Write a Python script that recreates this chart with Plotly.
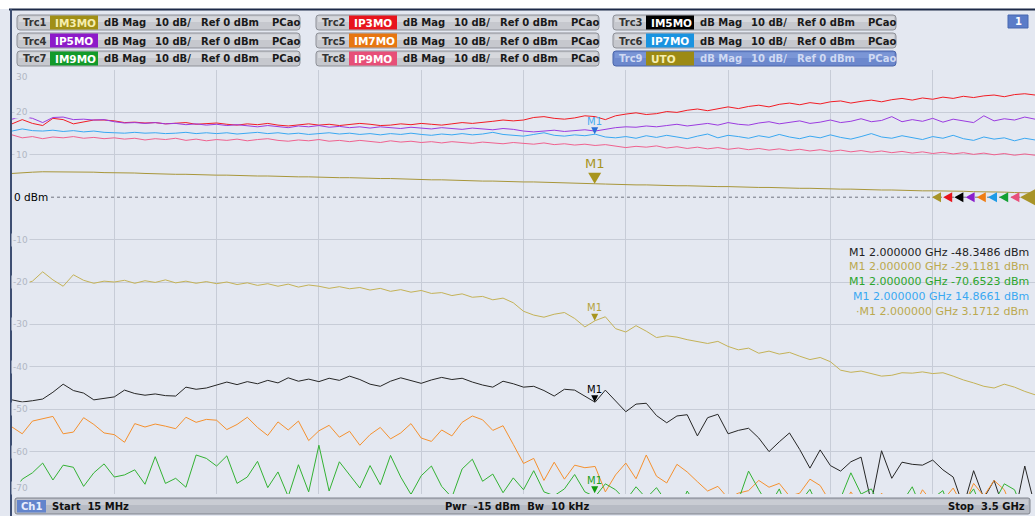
import plotly.graph_objects as go

W, H = 1035, 516

# sweep: 15 MHz .. 3.5 GHz, 101 points
f_start_ghz = 0.015
f_stop_ghz = 3.5
n_points = 101
freq_ghz = [f_start_ghz + (f_stop_ghz - f_start_ghz) * k / (n_points - 1) for k in range(n_points)]

trace_ids = ['Trc1', 'Trc2', 'Trc3', 'Trc4', 'Trc5', 'Trc6', 'Trc7', 'Trc8', 'Trc9']
trace_names = ['IM3MO', 'IP3MO', 'IM5MO', 'IP5MO', 'IM7MO', 'IP7MO', 'IM9MO', 'IP9MO', 'UTO']

im3mo = [-18.8, -20.6, -19.8, -17.6, -19.5, -21.0, -18.3, -19.6, -20.3, -19.8,
         -20.0, -19.6, -20.3, -19.7, -20.1, -19.5, -20.2, -19.8, -20.3, -19.9,
         -20.4, -20.0, -20.6, -20.2, -20.8, -20.4, -21.0, -20.5, -21.2, -20.7,
         -21.0, -21.5, -21.1, -21.6, -21.3, -21.9, -21.5, -22.2, -21.8, -22.4,
         -22.0, -22.7, -22.5, -23.2, -22.8, -23.6, -23.4, -24.2, -23.8, -24.9,
         -26.9, -27.8, -28.3, -27.6, -27.2, -28.6, -30.6, -29.1181, -28.2, -31.0,
         -31.8, -30.3, -31.6, -33.1, -32.7, -33.0, -33.6, -34.0, -34.5, -34.0,
         -35.2, -36.0, -35.6, -36.8, -36.3, -37.0, -36.6, -37.5, -38.3, -37.8,
         -38.8, -40.8, -41.3, -41.0, -41.6, -42.2, -42.0, -41.4, -41.5, -41.2,
         -41.6, -41.4, -42.2, -43.1, -43.8, -44.6, -45.0, -44.1, -44.8, -45.8,
         -46.6]
ip3mo = [17.3, 18.3, 17.4, 16.9, 18.6, 18.3, 17.3, 17.8, 18.2, 18.2,
         18.0, 17.6, 17.7, 17.5, 17.6, 17.3, 17.4, 17.6, 17.2, 17.3,
         17.5, 17.2, 17.0, 17.3, 17.1, 17.4, 17.0, 16.8, 17.1, 17.3,
         17.0, 17.2, 16.9, 17.1, 17.4, 17.2, 16.9, 17.0, 17.3, 17.1,
         17.4, 17.2, 17.0, 17.3, 17.6, 17.4, 17.6, 17.9, 18.2, 18.0,
         18.2, 18.8, 19.0, 18.6, 18.4, 18.7, 19.2, 19.0, 18.3, 19.2,
         19.6, 19.9, 19.5, 19.7, 20.2, 20.0, 20.5, 20.8, 20.4, 20.9,
         21.3, 20.9, 21.4, 21.7, 21.3, 21.9, 22.2, 21.8, 22.3, 22.0,
         22.5, 22.7, 22.2, 22.6, 22.9, 22.5, 23.0, 23.3, 22.9, 23.4,
         23.1, 23.6, 23.3, 23.8, 23.5, 23.9, 24.1, 23.7, 24.2, 24.4,
         24.1]
im5mo = [-47.8, -48.3, -48.0, -47.6, -46.0, -44.1, -45.6, -46.2, -47.8, -47.5,
         -47.1, -45.5, -46.3, -46.7, -46.4, -46.8, -46.9, -44.8, -45.3, -45.0,
         -44.3, -43.6, -44.2, -43.5, -44.0, -43.2, -43.8, -42.6, -43.4, -42.9,
         -43.5, -42.7, -43.2, -42.2, -43.0, -44.1, -44.6, -43.4, -42.6, -43.3,
         -43.9, -43.1, -42.5, -43.0, -42.7, -43.6, -44.3, -44.8, -43.4, -44.0,
         -44.8, -44.6, -45.6, -46.9, -45.3, -45.5, -47.0, -48.3486, -45.5, -48.0,
         -50.6, -48.8, -48.6, -51.5, -53.2, -51.6, -51.3, -56.3, -52.0, -51.2,
         -55.8, -55.0, -54.5, -56.8, -60.0, -57.7, -55.6, -59.5, -63.9, -59.6,
         -63.3, -64.6, -62.4, -61.3, -72.0, -59.8, -66.3, -62.5, -63.0, -63.2,
         -62.0, -64.3, -66.0, -73.0, -64.5, -71.0, -66.8, -74.0, -75.0, -63.4,
         -73.0]
ip5mo = [18.4, 19.0, 18.6, 17.6, 18.8, 18.9, 18.3, 18.4, 18.2, 18.3,
         17.8, 17.5, 17.6, 17.4, 17.6, 17.3, 17.4, 17.1, 17.3, 17.0,
         17.2, 16.9, 17.1, 16.8, 16.6, 16.9, 16.7, 16.4, 16.8, 16.6,
         16.9, 16.5, 16.7, 16.4, 16.6, 16.3, 16.6, 16.4, 16.2, 16.5,
         16.3, 16.1, 16.4, 16.2, 16.0, 16.3, 16.1, 15.9, 16.2, 16.0,
         15.6, 15.4, 15.6, 15.8, 15.5, 15.7, 15.9, 15.6, 16.0, 16.4,
         16.6, 16.5, 16.8, 16.6, 16.9, 17.2, 16.8, 17.1, 17.4, 17.0,
         17.6, 17.2, 17.0, 17.5, 17.8, 17.3, 17.6, 18.0, 17.4, 17.7,
         18.2, 17.6, 17.9, 18.5, 17.8, 18.1, 19.0, 17.8, 18.3, 17.9,
         18.6, 17.7, 18.4, 18.0, 17.6, 19.2, 18.0, 18.5, 18.2, 18.9,
         18.4]
im7mo = [-54.2, -55.8, -52.8, -52.3, -51.7, -55.8, -55.4, -52.0, -53.6, -55.6,
         -56.0, -57.8, -53.4, -54.2, -53.5, -54.0, -54.6, -51.9, -53.1, -52.4,
         -52.6, -54.8, -53.6, -51.9, -54.3, -56.2, -53.0, -54.9, -52.8, -57.4,
         -55.1, -53.8, -56.6, -55.2, -58.5, -56.0, -54.3, -57.0, -55.6, -53.4,
         -56.8, -57.6, -54.9, -56.3, -53.1, -51.6, -52.5, -55.0, -53.9, -58.3,
         -62.8, -61.6, -66.8, -62.5, -66.5, -63.2, -63.8, -63.5, -69.5, -65.5,
         -62.7, -66.4, -60.8, -65.8, -67.4, -63.0, -64.8, -67.1, -69.3, -68.2,
         -71.0, -69.8, -69.2, -66.8, -68.4, -67.5, -70.5, -69.8, -66.5, -68.0,
         -72.0, -74.0, -69.5, -73.0, -75.0, -69.8, -72.5, -70.0, -74.0, -69.0,
         -72.0, -71.5, -68.6, -73.0, -67.5, -70.5, -66.8, -69.0, -75.0, -70.2,
         -73.0]
ip7mo = [15.6, 16.1, 15.7, 15.6, 15.8, 15.5, 15.7, 15.4, 15.6, 15.3,
         15.2, 15.1, 15.3, 15.1, 15.2, 15.0, 15.1, 15.3, 15.0, 15.2,
         15.0, 15.2, 14.9, 15.1, 15.3, 15.0, 15.2, 14.9, 15.1, 14.8,
         15.0, 15.2, 14.9, 15.1, 14.8, 15.0, 14.7, 15.0, 14.8, 15.1,
         14.8, 14.6, 14.9, 14.7, 15.0, 14.7, 14.9, 15.3, 14.8, 14.6,
         14.4, 14.8, 15.2, 14.6, 14.4, 14.7, 14.5, 14.8661, 14.2, 14.0,
         14.3, 13.9, 14.5, 14.1, 14.6, 14.2, 13.8, 14.4, 14.9, 14.0,
         14.6, 14.3, 13.9, 14.5, 14.1, 14.8, 14.2, 13.8, 14.4, 14.0,
         14.7, 14.1, 13.7, 14.3, 15.0, 14.2, 13.9, 14.5, 14.1, 13.6,
         14.3, 13.9, 14.6, 13.8, 13.4, 14.2, 13.7, 14.0, 13.3, 13.9,
         13.5]
im9mo = [-70.0, -66.5, -65.0, -62.7, -66.7, -63.2, -63.7, -68.2, -65.0, -62.9,
         -66.0, -65.5, -64.3, -67.7, -61.2, -67.5, -66.3, -68.4, -60.8, -61.6,
         -63.4, -61.0, -67.5, -66.0, -62.3, -68.5, -64.8, -70.6, -63.1, -69.5,
         -58.5, -69.3, -62.4, -65.4, -68.6, -63.3, -67.8, -60.9, -66.0, -70.1,
         -65.7, -63.4, -68.2, -70.8, -64.1, -61.8, -67.0, -65.3, -69.7, -66.2,
         -69.0, -64.5, -69.5, -70.4, -68.8, -65.4, -69.5, -70.6523, -67.6, -69.0,
         -71.5, -68.3, -71.0, -68.5, -72.0, -75.0, -69.3, -73.0, -76.0, -72.0,
         -74.0, -71.5, -64.6, -69.0, -73.0, -68.8, -75.0, -72.0, -68.9, -74.0,
         -76.0, -71.0, -65.0, -70.0, -68.8, -73.5, -75.0, -72.0, -68.3, -74.0,
         -71.0, -69.2, -76.0, -72.0, -68.8, -74.5, -72.0, -67.6, -69.0, -75.0,
         -71.0]
ip9mo = [14.7, 14.0, 14.3, 13.8, 14.2, 14.0, 14.3, 13.9, 14.1, 13.8,
         14.0, 13.7, 13.9, 13.5, 13.8, 13.6, 13.9, 13.4, 13.7, 13.3,
         13.6, 13.4, 13.7, 13.3, 13.6, 13.8, 13.4, 13.2, 13.5, 13.3,
         13.6, 13.2, 13.4, 13.1, 13.4, 13.2, 12.9, 13.3, 13.0, 13.2,
         12.9, 13.1, 12.8, 13.1, 12.9, 12.7, 13.0, 12.8, 12.6, 12.9,
         12.7, 12.5, 12.8, 12.4, 12.6, 12.3, 12.5, 12.2, 12.4, 12.1,
         11.7, 12.0, 11.8, 12.1, 11.6, 11.9, 11.5, 11.8, 11.4, 11.7,
         11.3, 11.6, 11.2, 11.5, 11.1, 11.4, 11.0, 11.3, 10.9, 11.2,
         10.8, 11.1, 10.7, 11.0, 10.6, 10.9, 10.5, 10.8, 10.4, 10.7,
         10.3, 10.6, 10.2, 10.5, 10.1, 10.4, 10.0, 10.3, 9.9, 10.2,
         9.9]
uto = [5.6, 5.8, 5.9, 6.0, 6.0, 5.9, 6.0, 5.9, 5.9, 5.8,
       5.8, 5.7, 5.7, 5.6, 5.5, 5.5, 5.4, 5.4, 5.3, 5.3,
       5.2, 5.2, 5.1, 5.1, 5.0, 5.0, 4.9, 4.9, 4.8, 4.8,
       4.7, 4.7, 4.6, 4.6, 4.5, 4.5, 4.4, 4.4, 4.3, 4.3,
       4.2, 4.1, 4.1, 4.0, 3.9, 3.9, 3.8, 3.8, 3.7, 3.7,
       3.6, 3.6, 3.5, 3.4, 3.4, 3.3, 3.2, 3.1712, 3.1, 3.0,
       3.0, 2.9, 2.9, 2.8, 2.8, 2.7, 2.7, 2.6, 2.6, 2.5,
       2.5, 2.4, 2.4, 2.3, 2.3, 2.2, 2.2, 2.1, 2.1, 2.0,
       2.0, 1.9, 1.9, 1.8, 1.8, 1.7, 1.7, 1.6, 1.6, 1.5,
       1.5, 1.5, 1.4, 1.4, 1.3, 1.3, 1.2, 1.2, 1.1, 1.1,
       1.0]

trace_values = [im3mo, ip3mo, im5mo, ip5mo, im7mo, ip7mo, im9mo, ip9mo, uto]
for vals in trace_values:
    assert len(vals) == n_points

line_colors = ['#c4b257', '#f21c24', '#262626', '#9b3be0', '#f5912f',
               '#3aa8f2', '#33b233', '#f0628f', '#a8963a']
label_colors = ['#a08f16', '#e8141c', '#000000', '#8d1ac9', '#e77611',
                '#1a93e0', '#129a2a', '#e74f78', '#9c8a14']
arrow_colors = ['#a89428', '#e8141c', '#000000', '#8a1ecc', '#ef7d14',
                '#1e9be6', '#13a032', '#e8507a', '#a89428']

y_ticks = [30, 20, 10, -10, -20, -30, -40, -50, -60, -70]
marker_freq = 2.0
# traces carrying marker M1, in the order of the marker list
marker_traces = [2, 0, 6, 5, 8]

bg = '#e4e8f1'
grid = '#c7ccd7'
font = 'DejaVu Sans'

# plot area in screen pixels
left, right, top, bottom = 12, 1035, 70, 494


def px(x):
    return x / W


def py(y):
    return 1 - y / H


def rrect(x0, y0, x1, y1, r, fill, line, lw=1):
    pts = [('M', x0 + r, y0), ('L', x1 - r, y0), ('Q', x1, y0, x1, y0 + r),
           ('L', x1, y1 - r), ('Q', x1, y1, x1 - r, y1), ('L', x0 + r, y1),
           ('Q', x0, y1, x0, y1 - r), ('L', x0, y0 + r), ('Q', x0, y0, x0 + r, y0)]
    path = ''
    for p in pts:
        cmd, coords = p[0], p[1:]
        xy = ' '.join(f'{px(coords[i]):.5f},{py(coords[i + 1]):.5f}' for i in range(0, len(coords), 2))
        path += f'{cmd}{xy} '
    return dict(type='path', xref='paper', yref='paper', path=path + 'Z',
                fillcolor=fill, line=dict(color=line, width=lw), layer='above')


def rect(x0, y0, x1, y1, fill, line=None, lw=0):
    return dict(type='rect', xref='paper', yref='paper', x0=px(x0), x1=px(x1), y0=py(y1), y1=py(y0),
                fillcolor=fill, line=dict(color=line or fill, width=lw), layer='above')


def text(x, y, s, color='#000', size=10, anchor='left', bold=False, family=font):
    return dict(x=px(x), y=py(y), xref='paper', yref='paper', text=f'<b>{s}</b>' if bold else s,
                showarrow=False, xanchor=anchor, yanchor='middle',
                font=dict(family=family, size=size, color=color))


fig = go.Figure()

for name, vals, color in zip(trace_names, trace_values, line_colors):
    fig.add_trace(go.Scatter(x=freq_ghz, y=vals, mode='lines', name=name,
                             line=dict(color=color, width=1), hoverinfo='skip'))

shapes = []
annotations = []

# window frame
shapes.append(rect(0, 0, W, 9, '#ffffff'))
shapes.append(dict(type='line', xref='paper', yref='paper', x0=px(9), x1=1, y0=py(9.5), y1=py(9.5),
                   line=dict(color='#1d2a48', width=2), layer='above'))
shapes.append(dict(type='line', xref='paper', yref='paper', x0=px(11), x1=px(11), y0=0, y1=py(9),
                   line=dict(color='#3d4e72', width=2), layer='above'))

# trace info buttons
col_x = [17, 316, 613]
row_y = [15, 33, 51]
for k, (tid, name) in enumerate(zip(trace_ids, trace_names)):
    r, c = divmod(k, 3)
    x0, y0 = col_x[c], row_y[r]
    active = tid == 'Trc9'
    face = '#6c88cd' if active else '#c6c8ce'
    edge = '#4a65aa' if active else '#8e9198'
    txt = '#d0daf3' if active else '#1a1a1a'
    shapes.append(rrect(x0, y0, x0 + 283, y0 + 15, 3, face, edge))
    shapes.append(rect(x0 + 2, y0 + 1.5, x0 + 281, y0 + 7, '#d6d8dd' if not active else '#7b96d6'))
    shapes.append(rect(x0 + 33, y0 + 0.5, x0 + 81, y0 + 14.5, label_colors[k]))
    annotations.append(text(x0 + 4, y0 + 8, tid, '#d0daf3' if active else '#333333', 10, bold=True))
    name_color = '#f6eeb0' if k in (0, 8) else '#ffffff'
    annotations.append(text(x0 + 36, y0 + 8, name, name_color, 10.5, bold=True))
    annotations.append(text(x0 + 85, y0 + 8, 'dB Mag', txt, 10, bold=True))
    annotations.append(text(x0 + 136, y0 + 8, '10 dB/', txt, 10, bold=True))
    annotations.append(text(x0 + 182, y0 + 8, 'Ref 0 dBm', txt, 10, bold=True))
    annotations.append(text(x0 + 253, y0 + 8, 'PCao', txt, 10, bold=True))

# channel number box
shapes.append(rect(1008, 15, 1028, 28, '#5b7cc8', '#4868b0', 1))
annotations.append(text(1018, 22, '1', '#ffffff', 10, 'center', True))

# y tick labels drawn inside the grid
for v in y_ticks:
    shift = -7 if v == 30 else (6 if v == -70 else 0)
    annotations.append(dict(x=px(30), y=v, xref='paper', yref='y', text=str(v), showarrow=False,
                            xanchor='right', yanchor='middle', yshift=shift, bgcolor=bg,
                            font=dict(family=font, size=9, color='#b1b7c4')))

# reference level line
shapes.append(dict(type='line', xref='paper', yref='y', x0=px(45), x1=1, y0=0, y1=0,
                   line=dict(color='#707580', width=1, dash='dot')))
annotations.append(dict(x=px(12), y=0, xref='paper', yref='y', text='0 dBm', showarrow=False,
                        xanchor='left', yanchor='middle', bgcolor=bg,
                        font=dict(family=font, size=10.5, color='#000000')))

# reference position arrows at right edge
for k, col in enumerate(arrow_colors):
    if k < 8:
        tip = 932 + 11.2 * k - W
        path = f'M{tip:.1f},0 L{tip + 9:.1f},5 L{tip + 9:.1f},-5 Z'
    else:
        path = 'M-15,0 L0,8 L0,-8 Z'
    shapes.append(dict(type='path', xref='paper', yref='y', xsizemode='pixel', ysizemode='pixel',
                       xanchor=1, yanchor=0, path=path, fillcolor=col,
                       line=dict(color=col, width=0), layer='above'))

# marker M1 on each trace
idx = min(range(n_points), key=lambda i: abs(freq_ghz[i] - marker_freq))
for t in marker_traces:
    val = trace_values[t][idx]
    ya = max(val, -69.8)
    big = trace_names[t] == 'UTO'
    tri = {8: '#a8951e', 5: '#2a6fd8', 2: '#000000', 0: '#a8951e', 6: '#109a10'}[t]
    lab = {8: '#a8951e', 5: '#47aaf0', 2: '#000000', 0: '#b5a240', 6: '#22a022'}[t]
    path = 'M0,0 L-6.5,11 L6.5,11 Z' if big else 'M0,0 L-3.5,7 L3.5,7 Z'
    shapes.append(dict(type='path', xref='x', yref='y', xsizemode='pixel', ysizemode='pixel',
                       xanchor=marker_freq, yanchor=ya, path=path, fillcolor=tri,
                       line=dict(color=tri, width=0), layer='above'))
    annotations.append(dict(x=marker_freq, y=ya, xref='x', yref='y', text='M1', showarrow=False,
                            yshift=20 if big else 13, xanchor='center', yanchor='middle',
                            font=dict(family=font, size=13 if big else 10, color=lab)))

# marker readout table
table_colors = ['#222222', '#bba94f', '#2ca52c', '#3aa8f2', '#bba94f']
for row, (t, col) in enumerate(zip(marker_traces, table_colors)):
    val = trace_values[t][idx]
    prefix = '\u00b7' if row == 4 else ''
    s = f'{prefix}M1 {marker_freq:.6f} GHz {val:.4f} dBm'
    annotations.append(text(1031, 252 + 14.8 * row, s, col, 11, 'right'))

# bottom status bar
shapes.append(rrect(15, 498, 1030, 514, 2, '#b7bbc4', '#80848e'))
shapes.append(rect(17, 499.5, 1028, 505, '#c9ccd3'))
shapes.append(rect(17, 500, 46, 512.5, '#6384cc'))
annotations.append(text(31.5, 506.5, 'Ch1', '#e8eefc', 10, 'center', True))
annotations.append(text(50, 506.5, 'Start  15 MHz', '#111111', 10, 'left', True))
annotations.append(text(517, 506.5, 'Pwr  -15 dBm  Bw  10 kHz', '#111111', 10, 'center', True))
annotations.append(text(1027, 506.5, 'Stop  3.5 GHz', '#111111', 10, 'right', True))

x_grid = [f_start_ghz + (f_stop_ghz - f_start_ghz) * k / 10 for k in range(11)]

fig.update_layout(
    width=W, height=H,
    margin=dict(l=0, r=0, t=0, b=0),
    paper_bgcolor=bg, plot_bgcolor=bg,
    showlegend=False,
    hovermode=False,
    shapes=shapes,
    annotations=annotations,
    xaxis=dict(domain=[px(left), 1], range=[f_start_ghz, f_stop_ghz], tickvals=x_grid,
               showticklabels=False, showgrid=True, gridcolor=grid, gridwidth=1,
               zeroline=False, showline=False, ticks='', fixedrange=True),
    yaxis=dict(domain=[py(bottom), py(top)], range=[-70, 30], tickvals=y_ticks,
               showticklabels=False, showgrid=True, gridcolor=grid, gridwidth=1,
               zeroline=False, showline=False, ticks='', fixedrange=True),
)

# the page is photographed at 1035x516, so drop the default body margin
fig.write_html('out.html', config={'displayModeBar': False},
               post_script="document.body.style.margin='0';document.body.style.overflow='hidden';")
